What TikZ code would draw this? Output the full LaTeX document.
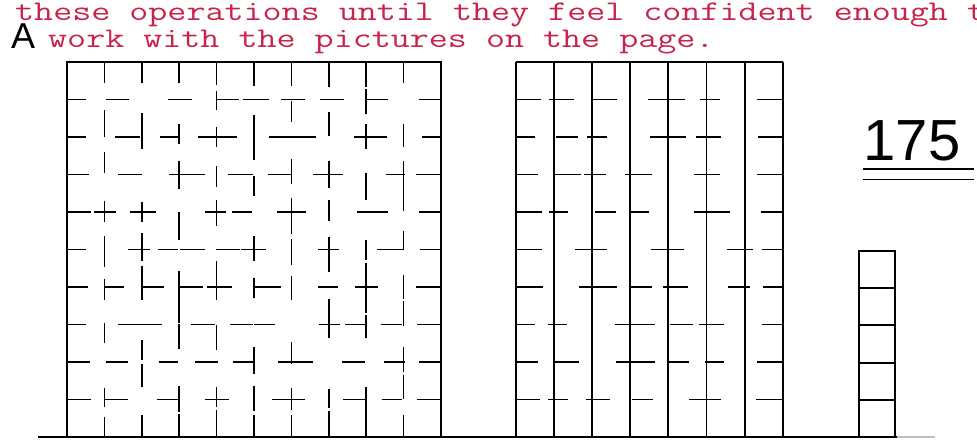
\documentclass[tikz,border=0pt]{standalone}
\usepackage{fontspec}
\newfontfamily\monofont[FakeStretch=1.297]{Latin Modern Mono}
\newfontfamily\sansfont{Liberation Sans}
\definecolor{inkred}{RGB}{200,35,75}
\begin{document}
\begin{tikzpicture}[x=1pt,y=-1pt,line cap=butt,
  redtext/.style={anchor=base west,inner sep=0pt,text=inkred,font=\monofont\fontsize{28.5}{30}\selectfont},
  frame/.style={draw=black,line width=2pt},
  gridline/.style={draw=black,line width=1.6pt},
  rodline/.style={draw=black,line width=1.9pt},
  underline/.style={draw=black,line width=1.8pt}]
\useasboundingbox (0,0) rectangle (977,439);
\clip (0,0) rectangle (977,439);
% texts
\node[redtext] (line1) at (15,20.7) {these operations until they feel confident enough to};
\node[redtext] (line2) at (48,47.7) {work with the pictures on the page.};
\node[anchor=base west,inner sep=0pt,font=\sansfont\fontsize{36}{36}\selectfont] (lblA) at (11,48) {A};
% hundred square
\pgfmathsetseed{23}
\foreach \k in {1,...,9}{
  \foreach \i in {0,...,9}{
    \pgfmathsetmacro\len{19+rnd*7}
    \pgfmathsetmacro\md{int(floor(rnd*4))}
    \pgfmathsetmacro\jit{rnd*4-2}
    \pgfmathsetmacro\off{ifthenelse(\i==0,0,ifthenelse(\i==9,37.4-\len,ifthenelse(\md==0,0,ifthenelse(\md==1,37.4-\len,ifthenelse(\md==2,-0.45*\len,37.4-0.55*\len)))+\jit))}
    \draw[gridline] ({67+37.4*\i+\off},{62+37.5*\k}) -- ++(\len,0);
  }
}
\foreach \i in {1,...,9}{
  \foreach \j in {0,...,9}{
    \pgfmathsetmacro\len{19+rnd*9}
    \pgfmathsetmacro\md{int(floor(rnd*4))}
    \pgfmathsetmacro\jit{rnd*4-2}
    \pgfmathsetmacro\off{ifthenelse(\j==0,0,ifthenelse(\j==9,37.5-\len,ifthenelse(\md==0,0,ifthenelse(\md==1,37.5-\len,ifthenelse(\md==2,-0.45*\len,37.5-0.55*\len)))+\jit))}
    \draw[gridline] ({67+37.4*\i},{62+37.5*\j+\off}) -- ++(0,\len);
  }
}
\draw[frame] (67,437) -- (67,62) -- (441,62) -- (441,437);
% tens rods
\foreach \r in {0,...,7}{
  \draw[rodline] ({516+38.1*\r},62) -- ({516+38.1*\r},437);
}
\draw[rodline] (516,62) -- (783,62);
\foreach \k in {1,...,9}{
  \foreach \r in {0,...,6}{
    \pgfmathsetmacro\len{19+rnd*8}
    \pgfmathsetmacro\md{int(floor(rnd*3))}
    \pgfmathsetmacro\jit{rnd*6-3}
    \pgfmathsetmacro\off{ifthenelse(\r==0,0,ifthenelse(\r==6,38.1-\len,ifthenelse(\md==0,-0.3*\len,ifthenelse(\md==1,0,38.1-0.7*\len))+\jit))}
    \draw[gridline] ({516+38.1*\r+\off},{62+37.5*\k}) -- ++(\len,0);
  }
}
% units
\draw[rodline] (859,437) -- (859,251) -- (895,251) -- (895,437);
\foreach \k in {1,...,4}{
  \draw[rodline] (859,{251+37.2*\k}) -- (895,{251+37.2*\k});
}
% base line
\draw[line width=1.8pt] (38,437) -- (897,437);
\draw[line width=1.5pt,black!25] (897,437) -- (935,437);
% number
\node[anchor=base,inner sep=0pt,font=\sansfont\fontsize{58}{58}\selectfont] (num) at (912,160) {175};
\draw[underline] (863,169) -- (974,169);
\draw[underline] (863,179.5) -- (974,179.5);
\end{tikzpicture}
\end{document}
